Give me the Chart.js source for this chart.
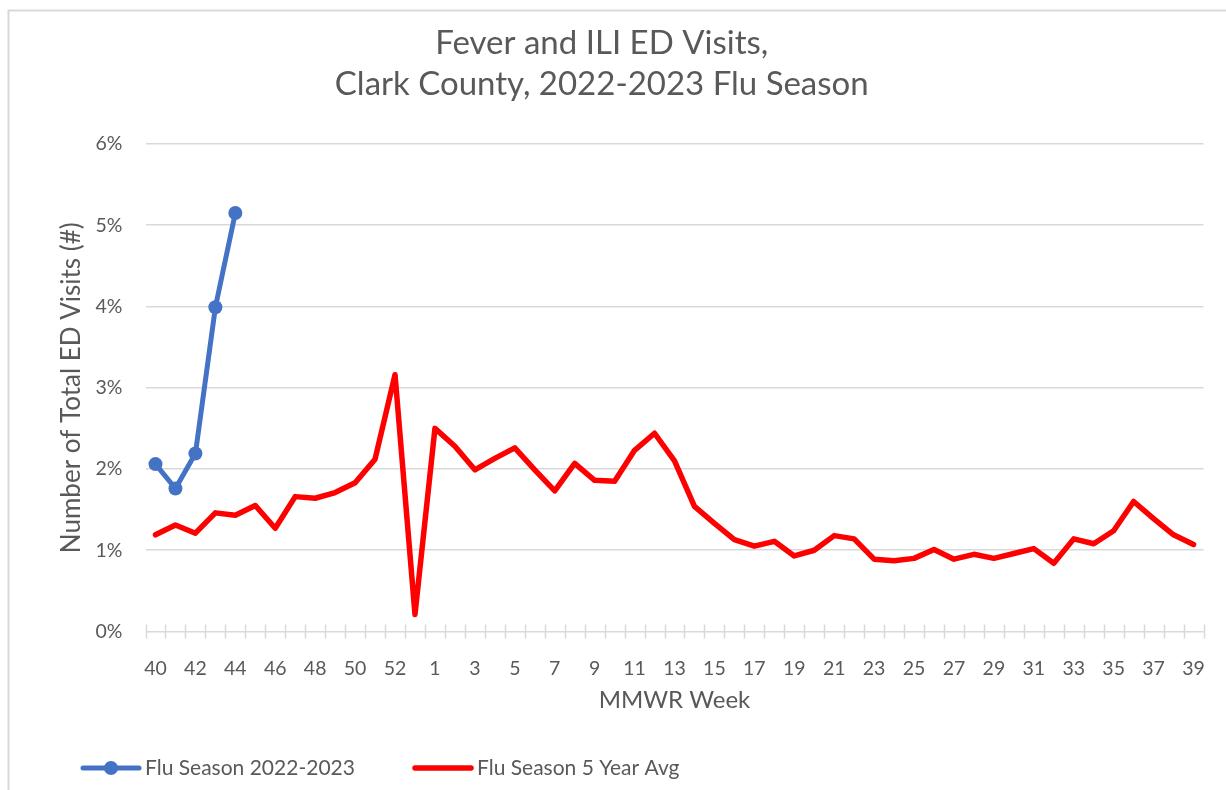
<!DOCTYPE html>
<html>
<head>
<meta charset="utf-8">
<script src="https://cdn.jsdelivr.net/npm/chart.js@4.4.1/dist/chart.umd.min.js"></script>
<style>
  html, body { margin: 0; padding: 0; background: #fff; }
  canvas { display: block; }
</style>
</head>
<body>
<canvas id="chart" width="1226" height="790"></canvas>
<script>
// MMWR weeks of the flu season (week 53 sits between 52 and 1)
const weeks = [40, 41, 42, 43, 44, 45, 46, 47, 48, 49, 50, 51, 52, 53,
  1, 2, 3, 4, 5, 6, 7, 8, 9, 10, 11, 12, 13, 14, 15, 16, 17, 18, 19, 20,
  21, 22, 23, 24, 25, 26, 27, 28, 29, 30, 31, 32, 33, 34, 35, 36, 37, 38, 39];

// percent of total ED visits
const season2223 = [2.06, 1.76, 2.19, 3.99, 5.15];
const fiveYearAvg = [1.19, 1.31, 1.21, 1.46, 1.43, 1.55, 1.27, 1.66, 1.64, 1.71,
  1.83, 2.12, 3.16, 0.21, 2.50, 2.28, 1.99, 2.13, 2.26, 1.99, 1.73, 2.07, 1.86,
  1.85, 2.23, 2.44, 2.10, 1.54, 1.33, 1.13, 1.05, 1.11, 0.93, 1.00, 1.18, 1.14,
  0.89, 0.87, 0.90, 1.01, 0.89, 0.95, 0.90, 0.96, 1.02, 0.84, 1.14, 1.08, 1.24,
  1.60, 1.39, 1.19, 1.07];

const yTicks = [0, 1, 2, 3, 4, 5, 6];
const titleLines = ['Fever and ILI ED Visits,', 'Clark County, 2022-2023 Flu Season'];
const seriesNames = ['Flu Season 2022-2023', 'Flu Season 5 Year Avg'];

const FONT = 'Lato, "Open Sans", sans-serif';
const TEXT = '#595959';
const GRID = '#d9d9d9';

// frame, cross tick marks on the category axis, bottom legend
const decor = {
  id: 'decor',
  beforeDraw(chart) {
    const ctx = chart.ctx;
    ctx.save();
    ctx.strokeStyle = GRID;
    ctx.lineWidth = 2;
    ctx.beginPath();
    ctx.moveTo(8.5, 790);
    ctx.lineTo(8.5, 10.5);
    ctx.lineTo(1226, 10.5);
    ctx.stroke();
    ctx.restore();
  },
  beforeDatasetsDraw(chart) {
    const ctx = chart.ctx;
    const xs = chart.scales.x, ys = chart.scales.y;
    const y0 = ys.getPixelForValue(0);
    ctx.save();
    ctx.strokeStyle = GRID;
    ctx.lineWidth = 1.5;
    ctx.beginPath();
    for (let i = 0; i <= weeks.length; i++) {
      const x = Math.round(xs.getPixelForValue(i - 0.5)) + 0.5;
      ctx.moveTo(x, y0 - 7);
      ctx.lineTo(x, y0 + 7);
    }
    ctx.stroke();
    ctx.restore();
  },
  afterDraw(chart) {
    const ctx = chart.ctx;
    const items = [
      { ds: chart.data.datasets[0], x: 83 },
      { ds: chart.data.datasets[1], x: 415 }
    ];
    const y = 768;
    ctx.save();
    items.forEach(it => {
      ctx.strokeStyle = it.ds.borderColor;
      ctx.lineWidth = it.ds.borderWidth;
      ctx.lineCap = 'round';
      ctx.beginPath();
      ctx.moveTo(it.x, y);
      ctx.lineTo(it.x + 56, y);
      ctx.stroke();
      if (it.ds.pointRadius > 0) {
        ctx.fillStyle = it.ds.pointBackgroundColor;
        ctx.beginPath();
        ctx.arc(it.x + 28, y, it.ds.pointRadius, 0, Math.PI * 2);
        ctx.fill();
      }
      ctx.fillStyle = TEXT;
      ctx.font = '21px ' + FONT;
      ctx.textAlign = 'left';
      ctx.textBaseline = 'middle';
      ctx.fillText(it.ds.label, it.x + 62, y);
    });
    ctx.restore();
  }
};

new Chart(document.getElementById('chart'), {
  type: 'line',
  data: {
    labels: weeks,
    datasets: [
      {
        label: seriesNames[0],
        data: season2223,
        borderColor: '#4472C4',
        backgroundColor: '#4472C4',
        pointBackgroundColor: '#4472C4',
        pointBorderColor: '#4472C4',
        borderWidth: 5,
        pointRadius: 7,
        pointBorderWidth: 0,
        borderJoinStyle: 'round',
        borderCapStyle: 'round',
        tension: 0
      },
      {
        label: seriesNames[1],
        data: fiveYearAvg,
        borderColor: '#FF0000',
        backgroundColor: '#FF0000',
        borderWidth: 5.5,
        pointRadius: 0,
        borderJoinStyle: 'round',
        borderCapStyle: 'round',
        tension: 0
      }
    ]
  },
  options: {
    responsive: false,
    animation: false,
    layout: { padding: { top: 0, left: 0, right: 22.5, bottom: 58.5 } },
    plugins: {
      legend: { display: false },
      tooltip: { enabled: false },
      title: {
        display: true,
        text: titleLines,
        color: TEXT,
        font: { family: FONT, size: 33, weight: 'normal', lineHeight: 1.242 },
        padding: { top: 22.5, bottom: 39.5 }
      }
    },
    scales: {
      x: {
        offset: true,
        grid: { display: false },
        border: { display: false },
        ticks: {
          autoSkip: false,
          maxRotation: 0,
          color: TEXT,
          font: { family: FONT, size: 19.5 },
          padding: 18,
          callback: function(v, i) { return i % 2 === 0 ? weeks[i] : ''; }
        },
        title: {
          display: true,
          text: 'MMWR Week',
          color: TEXT,
          font: { family: FONT, size: 24 },
          padding: { top: 0, bottom: 17 }
        },
        afterFit(scale) { scale.height = 100; }
      },
      y: {
        min: 0,
        max: 6,
        afterBuildTicks(scale) { scale.ticks = yTicks.map(v => ({ value: v })); },
        grid: { color: GRID, lineWidth: 1.5, drawTicks: false },
        border: { display: false },
        ticks: {
          color: TEXT,
          font: { family: FONT, size: 19.5 },
          padding: 23,
          callback: v => v + '%'
        },
        title: {
          display: true,
          text: 'Number of Total ED Visits (#)',
          color: TEXT,
          font: { family: FONT, size: 26 },
          padding: { top: 56, bottom: 0 }
        },
        afterFit(scale) { scale.width = 145.5; }
      }
    }
  },
  plugins: [decor]
});
</script>
</body>
</html>
